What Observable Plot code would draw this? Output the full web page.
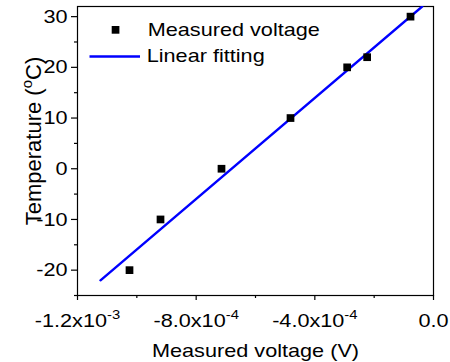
<!DOCTYPE html>
<html><head><meta charset="utf-8">
<script src="https://cdn.jsdelivr.net/npm/d3@7"></script>
<script src="https://cdn.jsdelivr.net/npm/@observablehq/plot@0.6"></script>
<style>body{margin:0;background:#fff} svg{display:block}</style>
</head><body><div id="chart"></div>
<script>
// Data
const voltage = [-1.0247e-3, -0.9202e-3, -0.7146e-3, -0.482e-3, -0.291e-3, -0.2236e-3, -0.0775e-3];
const temperature = [-20, -10, 0, 10, 20, 22, 30];
const fitVoltage = [-1.1225e-3, -0.0381e-3];
const fitTemperature = [-22, 32];
const xMajorTicks = [-1.2e-3, -8e-4, -4e-4, 0];
const xTickLabels = ["-1.2x10^-3", "-8.0x10^-4", "-4.0x10^-4", "0.0"];
const xMinorTicks = [-1.0e-3, -6e-4, -2e-4];
const yMajorTicks = [-20, -10, 0, 10, 20, 30];
const yMinorTicks = [-25, -15, -5, 5, 15, 25];
const legendLabels = ["Measured voltage", "Linear fitting"];
const xTitle = "Measured voltage (V)";
const yTitle = "Temperature (^o^C)";

const points = voltage.map((v, i) => ({v, t: temperature[i]}));
const fit = fitVoltage.map((v, i) => ({v, t: fitTemperature[i]}));
const font = "'Liberation Sans', Arial, sans-serif";
const blue = "#0000ff";

const legend = (index, scales, values, dims) => {
  const g = d3.create("svg:g").attr("text-anchor", "start");
  const x0 = dims.marginLeft, y0 = dims.marginTop;
  g.append("rect").attr("x", x0 + 34.7).attr("y", y0 + 20).attr("width", 7.7).attr("height", 7.7).attr("fill", "black");
  g.append("text").attr("x", x0 + 70.7).attr("y", y0 + 30).attr("font-size", 19).attr("fill", "black").text(legendLabels[0]);
  g.append("line").attr("x1", x0 + 12.5).attr("x2", x0 + 63).attr("y1", y0 + 50.5).attr("y2", y0 + 50.5).attr("stroke", blue).attr("stroke-width", 2.4);
  g.append("text").attr("x", x0 + 69.7).attr("y", y0 + 56).attr("font-size", 19).attr("fill", "black").text(legendLabels[1]);
  return g.node();
};

const chart = Plot.plot({
  width: 450, height: 362,
  marginLeft: 77, marginRight: 17, marginTop: 6, marginBottom: 67,
  style: {fontFamily: font, fontSize: "19px", color: "black", background: "white", overflow: "visible"},
  x: {domain: [-1.2e-3, 0]},
  y: {domain: [-25, 32]},
  marks: [
    Plot.axisX({ticks: xMajorTicks, tickSize: 5, tickPadding: 13, strokeWidth: 1.2, fontSize: 19, label: null,
      tickFormat: d => xTickLabels[xMajorTicks.findIndex(t => Math.abs(t - d) < 1e-9)]}),
    Plot.axisX({ticks: xMinorTicks, tickSize: 3, strokeWidth: 1.2, text: null, label: null}),
    Plot.axisY({ticks: yMajorTicks, tickSize: 6, tickPadding: 4, strokeWidth: 1.2, fontSize: 19, label: null, tickFormat: d => String(d)}),
    Plot.axisY({ticks: yMinorTicks, tickSize: 3, strokeWidth: 1.2, text: null, label: null}),
    Plot.frame({stroke: "black", strokeWidth: 1.2}),
    Plot.line(fit, {x: "v", y: "t", stroke: blue, strokeWidth: 2.4, clip: true}),
    Plot.dot(points, {x: "v", y: "t", symbol: "square", r: 4.35, fill: "black"}),
    Plot.text([xTitle], {frameAnchor: "bottom", dy: 48, lineAnchor: "top", fontSize: 19}),
    Plot.text([yTitle], {frameAnchor: "left", textAnchor: "middle", dx: -52, dy: -10, rotate: -90, lineAnchor: "top", fontSize: 22}),
    legend
  ]
});
document.getElementById("chart").appendChild(chart);

// superscripts marked with ^
chart.querySelectorAll("text").forEach(el => {
  const s = el.textContent;
  if (!s.includes("^")) { return; }
  const parts = s.split("^");
  const isTitle = s.startsWith("Temperature");
  const supSize = isTitle ? 15 : 13;
  const shift = isTitle ? 9 : 8.5;
  el.textContent = "";
  parts.forEach((p, i) => {
    if (!p) return;
    const ts = document.createElementNS("http://www.w3.org/2000/svg", "tspan");
    ts.textContent = p;
    if (i % 2 === 1) {
      ts.setAttribute("font-size", supSize);
      ts.setAttribute("dy", -shift);
    } else if (i > 0) {
      ts.setAttribute("dy", shift);
    }
    el.appendChild(ts);
  });
  if (isTitle) el.classList.add("nostretch");
});

// horizontal text is stretched like the reference
chart.querySelectorAll("text").forEach(el => {
  if (el.classList.contains("nostretch")) return;
  const len = el.getComputedTextLength();
  if (len > 0) {
    el.setAttribute("textLength", len * 1.14);
    el.setAttribute("lengthAdjust", "spacingAndGlyphs");
  }
});
</script></body></html>
